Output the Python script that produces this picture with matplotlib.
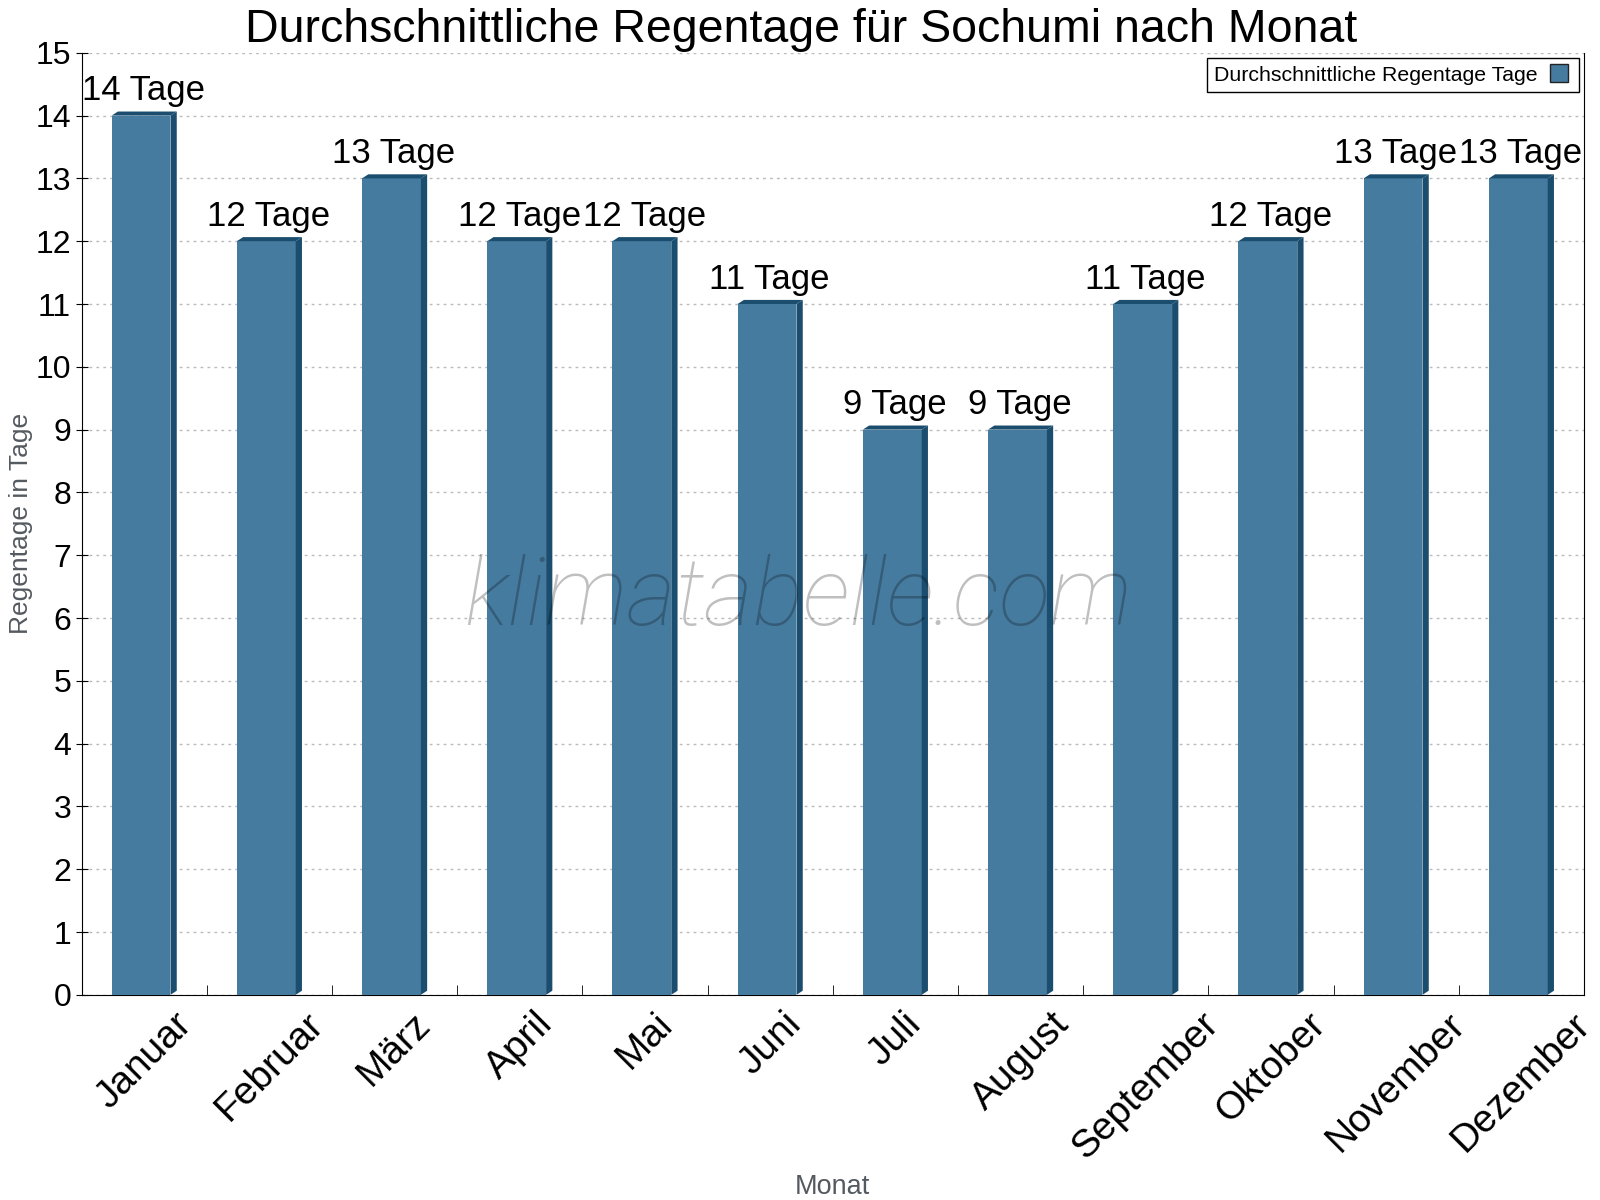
import matplotlib
matplotlib.use("Agg")
import matplotlib.pyplot as plt
from matplotlib.patches import Polygon
from matplotlib.lines import Line2D
import numpy as np

plt.rcParams['font.family'] = ['Liberation Sans', 'DejaVu Sans']

months = ["Januar", "Februar", "März", "April", "Mai", "Juni", "Juli",
          "August", "September", "Oktober", "November", "Dezember"]
rain_days = [14, 12, 13, 12, 12, 11, 9, 9, 11, 12, 13, 13]

front_col = "#467ba0"
dark_col = "#1a4d6e"

fig = plt.figure(figsize=(16, 12), dpi=100)
ax = fig.add_axes([0.051, 0.171, 0.939, 0.785])

x = np.arange(len(months))
width = 0.47
dx, dy = 0.05, 0.065
ax.bar(x - 0.025, rain_days, width=width, color=front_col, zorder=3)
for xi, h in zip(x - 0.025, rain_days):
    x0, x1 = xi - width / 2, xi + width / 2
    ax.add_patch(Polygon([(x1, 0), (x1 + dx, dy), (x1 + dx, h + dy), (x1, h)],
                         closed=True, color=dark_col, zorder=3, lw=0))
    ax.add_patch(Polygon([(x0, h), (x1, h), (x1 + dx, h + dy), (x0 + dx, h + dy)],
                         closed=True, color=dark_col, zorder=3, lw=0))
    ax.text(xi + 0.02, h + 0.13, f"{h} Tage", ha="center", va="bottom",
            fontsize=25, zorder=5)

ax.set_xlim(-0.5, 11.5)
ax.set_ylim(0, 15)
ax.set_yticks(range(0, 16))
ax.tick_params(axis="y", labelsize=23, length=8, direction="inout")
ax.set_xticks(x)
ax.set_xticklabels(months, rotation=45, ha="center", fontsize=28)
ax.tick_params(axis="x", length=0, pad=8)
ax.set_xticks(np.arange(0.5, 11.5, 1), minor=True)
ax.tick_params(axis="x", which="minor", length=7, direction="in")

ax.grid(axis="y", linestyle=(0, (2, 3)), color="#bbbbbb", lw=1, zorder=0)
ax.spines["top"].set_visible(False)

ax.set_title("Durchschnittliche Regentage für Sochumi nach Monat", fontsize=33.5,
             pad=8, x=0.479)
ax.set_ylabel("Regentage in Tage", fontsize=19, color="#555a60")
ax.yaxis.set_label_coords(-0.0325, 0.5)
ax.set_xlabel("Monat", fontsize=19.5, color="#555a60", labelpad=6)

ax.text(0.477, 0.42, "klimatabelle.com", transform=ax.transAxes, ha="center",
        va="center", fontsize=68, style="italic", fontfamily="Roboto",
        fontweight="light", color="black", alpha=0.25, zorder=6)

handle = Line2D([], [], marker="s", linestyle="none", markersize=13,
                markerfacecolor=front_col, markeredgecolor="#222222")
leg = ax.legend([handle], ["Durchschnittliche Regentage Tage"], loc="upper right",
                markerfirst=False, fontsize=15.3, fancybox=False, framealpha=1,
                edgecolor="black", borderpad=0.35, handletextpad=0.4,
                handlelength=1.2, borderaxespad=0,
                bbox_to_anchor=(0.997, 0.994))
leg.get_frame().set_linewidth(1)

fig.savefig("out.png", dpi=100)
